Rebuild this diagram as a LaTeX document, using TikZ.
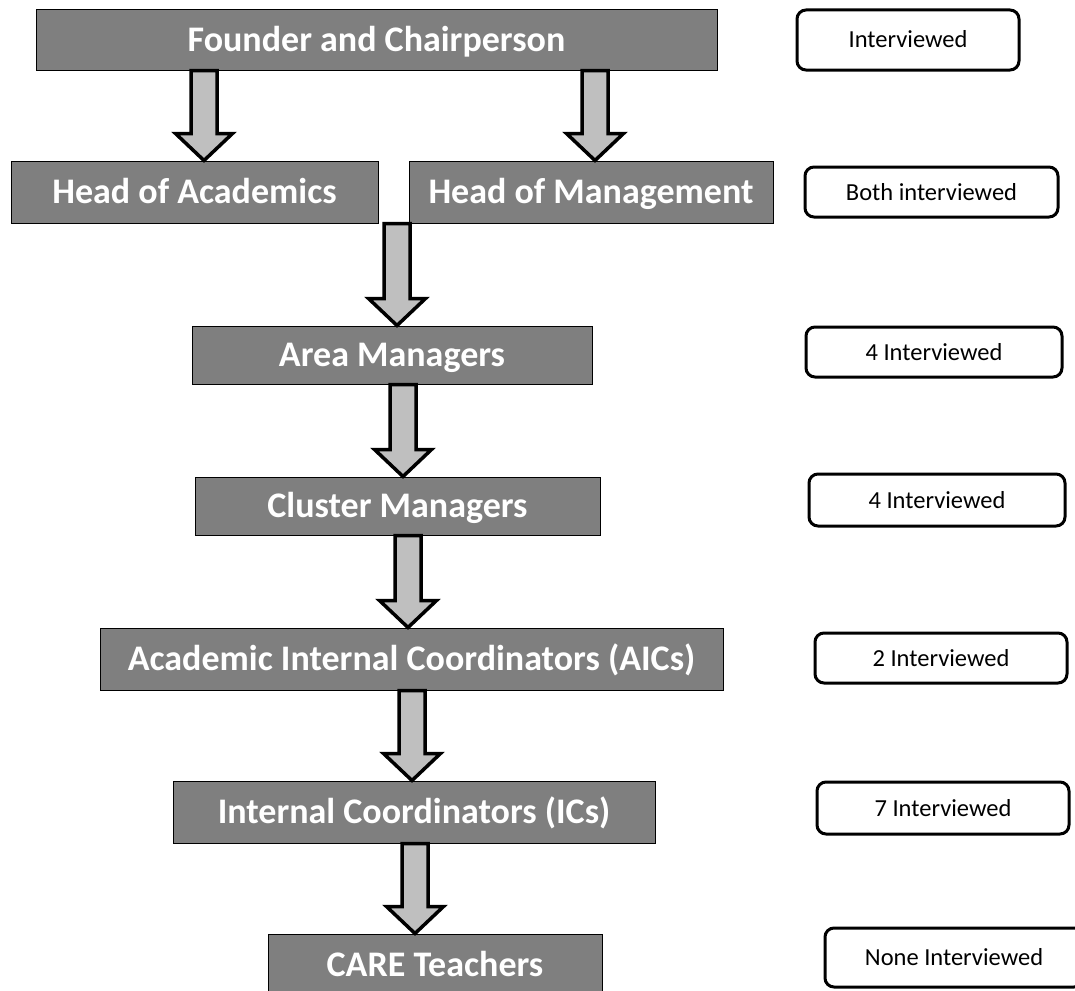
\documentclass[tikz,border=0pt]{standalone}
\usepackage{fontspec}
\setmainfont{Carlito}
\usetikzlibrary{calc}

\definecolor{boxgray}{RGB}{127,127,127}
\definecolor{arrowgray}{RGB}{191,191,191}

\tikzset{
  rolebox/.style={draw=black, line width=1pt, fill=boxgray, text=white,
    inner sep=0pt, text height=26pt, text depth=3pt,
    font=\fontsize{36}{40}\selectfont\bfseries},
  countbox/.style={draw=black, line width=3pt, rounded corners=9pt, fill=white,
    text=black, inner sep=0pt, text height=17pt, text depth=1pt,
    font=\fontsize{24.5}{28}\selectfont},
  blockarrow/.style={draw=black, line width=3.5pt, fill=arrowgray, line join=miter}
}

% hollow block arrow at horizontal position #1, from the bottom of node #2
% down to the top of node #3
\newcommand\blockarrow[3]{%
  \draw[blockarrow] let \p1=(#2.south), \p2=(#3.north) in
    (#1-13,\y1) -- (#1-13,\y2+27pt) -- (#1-28.5,\y2+27pt) -- (#1,\y2)
    -- (#1+28.5,\y2+27pt) -- (#1+13,\y2+27pt) -- (#1+13,\y1) -- cycle;}

\begin{document}
\begin{tikzpicture}[x=1pt,y=-1pt]
  \useasboundingbox (0,0) rectangle (1075,990);
  \clip (0,0) rectangle (1075,990);

  % organisation levels
  \node[rolebox, minimum width=681pt, minimum height=60pt] (found) at (376.5,40) {Founder and Chairperson};
  \node[rolebox, minimum width=367pt, minimum height=62pt] (hacad) at (194.5,192) {Head of Academics};
  \node[rolebox, minimum width=364pt, minimum height=62pt] (hman) at (591,192) {Head of Management};
  \node[rolebox, minimum width=400pt, minimum height=58pt] (area) at (392,355) {Area Managers};
  \node[rolebox, minimum width=405pt, minimum height=58pt] (clus) at (397.5,506) {Cluster Managers};
  \node[rolebox, minimum width=623pt, minimum height=62pt] (aic) at (411.5,659) {Academic Internal Coordinators (AICs)};
  \node[rolebox, minimum width=482pt, minimum height=62pt] (ics) at (414,812) {Internal Coordinators (ICs)};
  \node[rolebox, minimum width=334pt, minimum height=62pt] (care) at (435,965) {CARE Teachers};

  % interview counts
  \node[countbox, minimum width=222pt, minimum height=60pt] (c1) at (908,40) {Interviewed};
  \node[countbox, minimum width=253pt, minimum height=50pt] (c2) at (931.5,192) {Both interviewed};
  \node[countbox, minimum width=256pt, minimum height=50pt] (c3) at (934,352) {4 Interviewed};
  \node[countbox, minimum width=256pt, minimum height=52pt] (c4) at (937,500) {4 Interviewed};
  \node[countbox, minimum width=252pt, minimum height=50pt] (c5) at (941,658) {2 Interviewed};
  \node[countbox, minimum width=252pt, minimum height=52pt] (c6) at (943,808) {7 Interviewed};
  \node[countbox, minimum width=258pt, minimum height=59pt] (c7) at (954,957.5) {None Interviewed};

  % reporting arrows
  \blockarrow{204}{found}{hacad}
  \blockarrow{595}{found}{hman}
  \blockarrow{397}{hman}{area}
  \blockarrow{403}{area}{clus}
  \blockarrow{408}{clus}{aic}
  \blockarrow{412}{aic}{ics}
  \blockarrow{415}{ics}{care}
\end{tikzpicture}
\end{document}
